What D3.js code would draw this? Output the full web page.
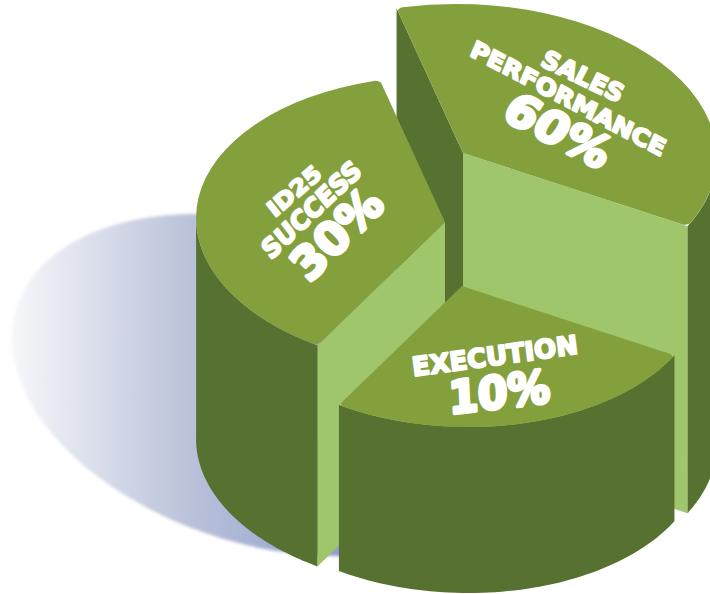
<!DOCTYPE html>
<meta charset="utf-8">
<style>
    html, body { margin: 0; background: #fff; }
    svg { display: block; }
    .label {
        font-family: "DejaVu Sans", sans-serif;
        font-weight: bold;
        fill: #fff;
        stroke: #fff;
        stroke-linejoin: round;
        vector-effect: non-scaling-stroke;
        text-anchor: middle;
    }
</style>
<body>
<svg id="chart" width="710" height="594"></svg>
<script src="https://cdn.jsdelivr.net/npm/d3@7"></script>
<script>
    // values as printed on the chart
    var sliceNames = ["SALES PERFORMANCE", "EXECUTION", "ID25 SUCCESS"];
    var slicePercent = [60, 10, 30];
    // the artwork does not give slices their true share: degrees
    var sliceSweep = [133, 93, 134];

    var topColor = "#84a03c", darkColor = "#577130", lightColor = "#a0c66b";

    // tilted ellipse the unit circle is projected onto
    var proj = { a: 248.9, b: -3.6, c: 6.1, d: 146 };

    var layout = {
        "SALES PERFORMANCE": { apex: [463, 153], depth: 287, scale: 1.02, startWall: darkColor, endWall: lightColor },
        "ID25 SUCCESS": { apex: [445, 222], depth: 221, scale: 1, startWall: lightColor, endWall: null },
        "EXECUTION": { apex: [462, 286], depth: 166, scale: 0.965, startWall: null, endWall: null }
    };

    // text, baseline centre, baseline vector, up vector, width, cap height
    var labelLines = [
        ["SALES", 579, 84, [240, 115], [25, -50], 88, 18],
        ["PERFORMANCE", 565, 106, [578, 305], [20, -47], 218, 17],
        [slicePercent[0] + "%", 550, 144, [280, 145], [55, -85], 113, 33],
        ["ID25", 299, 197, [145, -125], [-30, -38], 64, 16],
        ["SUCCESS", 317, 217, [275, -260], [-35, -45], 127, 19],
        [slicePercent[2] + "%", 348, 245, [1, -1], [-1, -1], 109, 33],
        ["EXECUTION", 496, 365, [495, -68], [-7, -56], 167, 19],
        [slicePercent[1] + "%", 500, 408, [250, -30], [-5, -100], 102, 33]
    ];

    var svg = d3.select("#chart");

    // shadow on the ground, gradient runs left to right on the page
    var defs = svg.append("defs");
    var grad = defs.append("linearGradient")
        .attr("id", "shadow")
        .attr("gradientUnits", "userSpaceOnUse")
        .attr("gradientTransform", "rotate(-17)")
        .attr("x1", -255).attr("x2", 75).attr("y1", 0).attr("y2", 0);
    grad.append("stop").attr("offset", 0).attr("stop-color", "#f6f7fa");
    grad.append("stop").attr("offset", 0.55).attr("stop-color", "#b9c1d9");
    grad.append("stop").attr("offset", 1).attr("stop-color", "#8f9dd0");
    defs.append("filter").attr("id", "soft")
        .append("feGaussianBlur").attr("stdDeviation", 1.5);

    svg.append("ellipse")
        .attr("rx", 262).attr("ry", 160)
        .attr("transform", "translate(267,385) rotate(17)")
        .attr("fill", "url(#shadow)")
        .attr("filter", "url(#soft)");

    var pie = d3.pie()
        .sort(null)
        .value(function (d) { return d.sweep; })
        .startAngle(-16 * Math.PI / 180)
        .endAngle(344 * Math.PI / 180);

    var rows = sliceNames.map(function (name, i) {
        return { name: name, percent: slicePercent[i], sweep: sliceSweep[i] };
    });

    var arcs = pie(rows).map(function (d) {
        d.geo = layout[d.data.name];
        return d;
    });
    // back slices first
    arcs.sort(function (p, q) { return p.geo.apex[1] - q.geo.apex[1]; });

    var topArc = d3.arc().innerRadius(0).outerRadius(1).cornerRadius(0.025);
    var line = d3.line();

    function project(geo, angle, r) {
        var X = r * geo.scale * Math.sin(angle), Y = -r * geo.scale * Math.cos(angle);
        return [geo.apex[0] + proj.a * X + proj.b * Y, geo.apex[1] + proj.c * X + proj.d * Y];
    }

    function radialWall(geo, angle) {
        var p = project(geo, angle, 1), o = geo.apex;
        return line([o, p, [p[0], p[1] + geo.depth], [o[0], o[1] + geo.depth]]) + "Z";
    }

    // only the part of the rim that faces the viewer
    function outerWall(d) {
        var from = Math.max(d.startAngle, Math.PI / 2), to = Math.min(d.endAngle, 1.5 * Math.PI);
        var tops = d3.range(0, 61).map(function (i) {
            return project(d.geo, from + (to - from) * i / 60, 1);
        });
        var bottoms = tops.map(function (p) { return [p[0], p[1] + d.geo.depth]; }).reverse();
        return line(tops.concat(bottoms)) + "Z";
    }

    var slices = svg.selectAll(".slice")
        .data(arcs)
        .enter().append("g")
        .attr("class", "slice");

    slices.filter(function (d) { return d.geo.startWall; }).append("path")
        .attr("d", function (d) { return radialWall(d.geo, d.startAngle); })
        .attr("fill", function (d) { return d.geo.startWall; });

    slices.filter(function (d) { return d.geo.endWall; }).append("path")
        .attr("d", function (d) { return radialWall(d.geo, d.endAngle); })
        .attr("fill", function (d) { return d.geo.endWall; });

    slices.append("path")
        .attr("d", outerWall)
        .attr("fill", darkColor);

    slices.append("path")
        .attr("d", topArc)
        .attr("fill", topColor)
        .attr("transform", function (d) {
            var s = d.geo.scale;
            return "matrix(" + [proj.a * s, proj.c * s, proj.b * s, proj.d * s, d.geo.apex[0], d.geo.apex[1]].join(",") + ")";
        });

    // labels are skewed by hand to lie on the top faces
    var fontSize = 40, capRatio = 0.73;
    function unit(v) {
        var n = Math.hypot(v[0], v[1]);
        return [v[0] / n, v[1] / n];
    }

    svg.selectAll(".label")
        .data(labelLines)
        .enter().append("text")
        .attr("class", "label")
        .attr("font-size", fontSize)
        .attr("stroke-width", function (d) { return d[6] > 25 ? 3.5 : 2; })
        .text(function (d) { return d[0]; })
        .attr("transform", function (d) {
            var r = unit(d[3]), u = unit(d[4]);
            var sx = d[5] / this.getComputedTextLength();
            var sy = d[6] / (fontSize * capRatio);
            return "matrix(" + [r[0] * sx, r[1] * sx, -u[0] * sy, -u[1] * sy, d[1], d[2]].join(",") + ")";
        });
</script>
</body>
